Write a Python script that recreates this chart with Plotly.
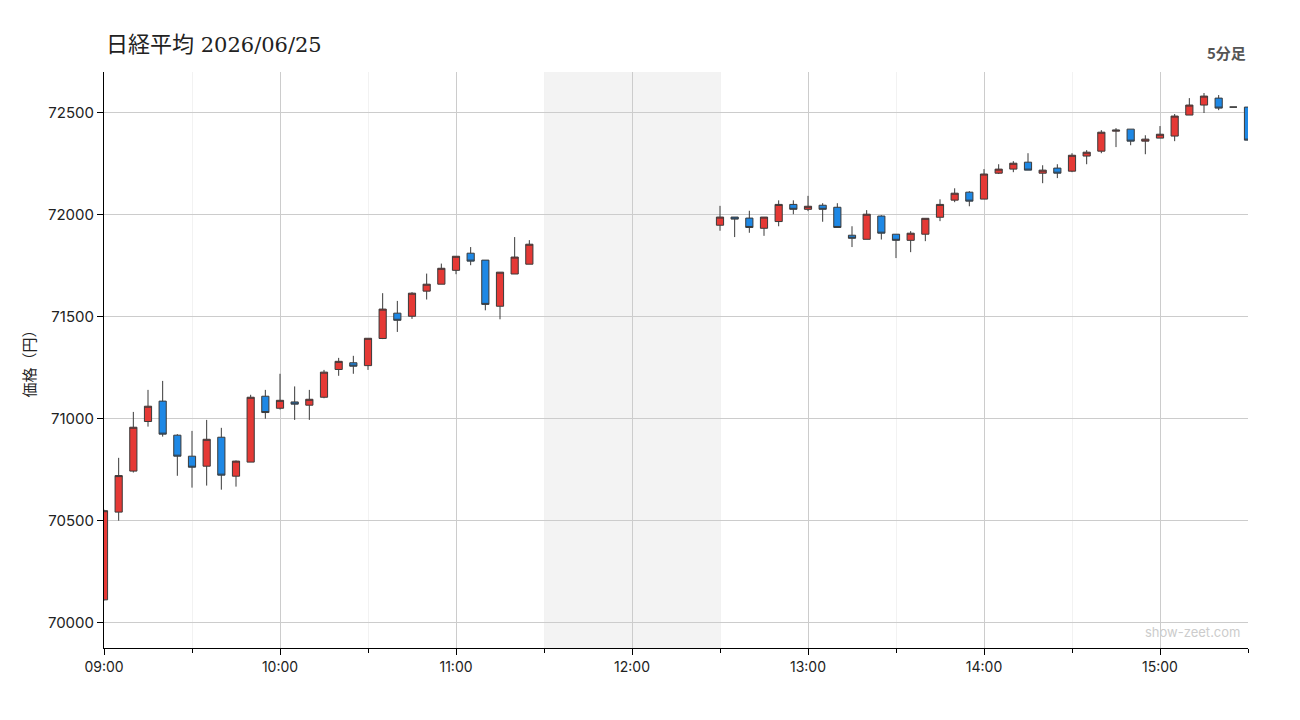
import plotly.graph_objects as go

DAY = "2026-06-25"

times = ["09:00", "09:05", "09:10", "09:15", "09:20", "09:25", "09:30", "09:35", "09:40", "09:45",
         "09:50", "09:55", "10:00", "10:05", "10:10", "10:15", "10:20", "10:25", "10:30", "10:35",
         "10:40", "10:45", "10:50", "10:55", "11:00", "11:05", "11:10", "11:15", "11:20", "11:25",
         "12:30", "12:35", "12:40", "12:45", "12:50", "12:55", "13:00", "13:05", "13:10", "13:15",
         "13:20", "13:25", "13:30", "13:35", "13:40", "13:45", "13:50", "13:55", "14:00", "14:05",
         "14:10", "14:15", "14:20", "14:25", "14:30", "14:35", "14:40", "14:45", "14:50", "14:55",
         "15:00", "15:05", "15:10", "15:15", "15:20", "15:25", "15:30"]

open_ = [70113, 70543, 70744, 70987, 71087, 70920, 70817, 70768, 70910, 70719,
         70788, 71111, 71052, 71083, 71067, 71106, 71242, 71275, 71261, 71394,
         71518, 71503, 71626, 71660, 71728, 71812, 71778, 71552, 71710, 71758,
         71949, 71989, 71984, 71934, 71967, 72051, 72027, 72047, 72037, 71900,
         71880, 71994, 71905, 71875, 71905, 71988, 72072, 72111, 72077, 72204,
         72224, 72258, 72204, 72229, 72214, 72288, 72312, 72410, 72420, 72361,
         72376, 72386, 72489, 72538, 72572, 72528, 72528]
high = [70555, 70809, 71034, 71142, 71186, 70925, 70941, 70995, 70956, 70796,
        71118, 71142, 71221, 71159, 71142, 71240, 71299, 71309, 71395, 71616,
        71578, 71621, 71712, 71761, 71797, 71842, 71778, 71719, 71891, 71876,
        72044, 71989, 72020, 71989, 72071, 72071, 72093, 72057, 72057, 71944,
        72023, 71998, 71905, 71920, 71983, 72076, 72130, 72116, 72224, 72248,
        72263, 72302, 72243, 72248, 72302, 72317, 72415, 72425, 72420, 72390,
        72435, 72494, 72572, 72597, 72587, 72528, 72528]
low = [70110, 70501, 70737, 70962, 70913, 70721, 70663, 70673, 70653, 70668,
       70788, 71001, 71046, 70995, 70995, 71101, 71211, 71221, 71240, 71391,
       71426, 71490, 71585, 71660, 71709, 71753, 71532, 71488, 71710, 71758,
       71922, 71891, 71912, 71897, 71944, 72003, 72018, 71966, 71938, 71842,
       71880, 71879, 71788, 71817, 71871, 71969, 72062, 72042, 72077, 72200,
       72209, 72219, 72155, 72180, 72209, 72248, 72302, 72332, 72341, 72297,
       72376, 72361, 72489, 72499, 72513, 72528, 72366]
close = [70550, 70722, 70959, 71062, 70925, 70817, 70763, 70900, 70724, 70793,
         71106, 71031, 71091, 71072, 71096, 71229, 71282, 71258, 71395, 71538,
         71483, 71616, 71660, 71738, 71797, 71773, 71561, 71719, 71793, 71856,
         71989, 71979, 71938, 71989, 72051, 72027, 72042, 72027, 71938, 71885,
         72003, 71910, 71875, 71910, 71983, 72051, 72106, 72067, 72200, 72224,
         72253, 72219, 72219, 72204, 72292, 72307, 72405, 72415, 72361, 72371,
         72395, 72484, 72538, 72582, 72523, 72528, 72366]

y_ticks = [70000, 70500, 71000, 71500, 72000, 72500]
title_name = "日経平均"
title_date = "2026/06/25"
interval_text = "5分足"
y_title = "価格（円）"
watermark = "show-zeet.com"
lunch_start, lunch_end = "11:30", "12:30"

x = [f"{DAY} {t}" for t in times]

fig = go.Figure()
fig.add_trace(go.Candlestick(
    x=x, open=open_, high=high, low=low, close=close,
    increasing=dict(fillcolor="#e53935", line=dict(color="#3a3a3a", width=1)),
    decreasing=dict(fillcolor="#1e88e5", line=dict(color="#3a3a3a", width=1)),
    whiskerwidth=0,
    showlegend=False,
))

fig.add_shape(type="rect", xref="x", yref="paper",
              x0=f"{DAY} {lunch_start}", x1=f"{DAY} {lunch_end}", y0=0, y1=1,
              fillcolor="#f3f3f3", line=dict(width=0), layer="below")

title_html = (f'<span style="font-family:Noto Sans CJK JP;font-size:22px">{title_name}</span>'
              f' {title_date}')

fig.update_layout(
    width=1300, height=720,
    margin=dict(l=104, r=52, t=72, b=72),
    paper_bgcolor="white", plot_bgcolor="white",
    font=dict(family="Inter, Noto Sans CJK JP", size=14, color="#222"),
    title=dict(text=title_html, x=106 / 1300, xref="container", xanchor="left",
               y=1 - 45 / 720, yanchor="middle",
               font=dict(family="DejaVu Serif, Noto Sans CJK JP", size=21, color="#222")),
    annotations=[
        dict(text=f"<b>{interval_text}</b>", xref="paper", yref="paper", x=1, y=1,
             xanchor="right", yanchor="bottom", yshift=7, showarrow=False,
             font=dict(family="Noto Sans CJK JP", size=15, color="#555")),
        dict(text=watermark, xref="paper", yref="paper", x=0.995, y=0.0,
             xanchor="right", yanchor="bottom", yshift=6, showarrow=False,
             font=dict(family="Inter, sans-serif", size=13, color="#cccccc")),
    ],
    xaxis=dict(
        type="date",
        range=[f"{DAY} 09:00", f"{DAY} 15:30"],
        rangeslider=dict(visible=False),
        dtick=3600000, tick0=f"{DAY} 09:00", tickformat="%H:%M",
        showgrid=True, gridcolor="#cccccc", gridwidth=1,
        showline=True, linecolor="#000", linewidth=1,
        ticks="outside", ticklen=6, tickcolor="#000",
        minor=dict(dtick=1800000, tick0=f"{DAY} 09:00", showgrid=True, gridcolor="#f2f2f2",
                   ticks="outside", ticklen=4, tickcolor="#000"),
        zeroline=False,
        tickfont=dict(size=14, color="#222"),
    ),
    yaxis=dict(
        range=[69877, 72700],
        tickvals=y_ticks, ticktext=[str(v) for v in y_ticks],
        showgrid=True, gridcolor="#cccccc", gridwidth=1,
        showline=True, linecolor="#000", linewidth=1,
        ticks="outside", ticklen=6, tickcolor="#000",
        zeroline=False,
        tickfont=dict(size=15, color="#222"),
        title=dict(text=y_title, standoff=8,
                   font=dict(family="Noto Sans CJK JP", size=15, color="#222")),
    ),
)

fig.write_html("out.html")
